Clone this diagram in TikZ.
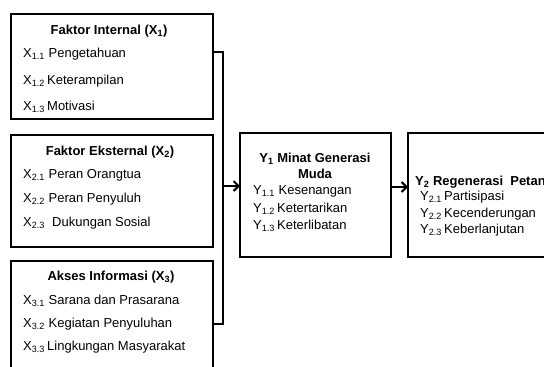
\documentclass[tikz,border=0pt]{standalone}
\usepackage{fontspec}
\setmainfont{Liberation Sans}
\usetikzlibrary{arrows.meta,calc,positioning}

\tikzset{
  box/.style={draw, line width=2.3pt, rectangle, inner sep=0pt, outer sep=0pt},
  head/.style={anchor=base, font=\fontsize{13}{15}\selectfont\bfseries, inner sep=0pt},
  item/.style={anchor=base west, font=\fontsize{13}{15}\selectfont, inner sep=0pt},
  link/.style={line width=2.3pt},
  arr/.style={line width=2.3pt, -{Straight Barb[length=5pt,width=10pt,line width=2pt]}}
}

\begin{document}
\begin{tikzpicture}[x=1pt,y=-1pt]
        \useasboundingbox (0,0) rectangle (544,367);
        \clip (0,0) rectangle (544,367);

        \node[box, minimum width=202pt, minimum height=105pt] (x1) at (112,66.5) {};
        \node[box, minimum width=202pt, minimum height=112pt] (x2) at (112,191) {};
        \node[box, minimum width=202pt, minimum height=130pt] (x3) at (112,326) {};
        \node[box, minimum width=151pt, minimum height=124pt] (y1) at (315.5,195) {};
        \node[box, minimum width=200pt, minimum height=124pt] (y2) at (508,195) {};

        \node[head] (x1h) at (109,34) {Faktor Internal (X\textsubscript{1})};
        \node[item] (x11) at (23,57) {X\textsubscript{1.1} Pengetahuan};
        \node[item] (x12) at (23,84) {X\textsubscript{1.2}\,Keterampilan};
        \node[item] (x13) at (23,110) {X\textsubscript{1.3}\,Motivasi};

        \node[head] (x2h) at (110,155) {Faktor Eksternal (X\textsubscript{2})};
        \node[item] (x21) at (23,178) {X\textsubscript{2.1} Peran Orangtua};
        \node[item] (x22) at (23,202) {X\textsubscript{2.2} Peran Penyuluh};
        \node[item] (x23) at (23,226) {X\textsubscript{2.3}\ \ Dukungan Sosial};

        \node[head] (x3h) at (111,280) {Akses Informasi (X\textsubscript{3})};
        \node[item] (x31) at (23,304) {X\textsubscript{3.1} Sarana dan Prasarana};
        \node[item] (x32) at (23,327) {X\textsubscript{3.2} Kegiatan Penyuluhan};
        \node[item] (x33) at (23,350) {X\textsubscript{3.3}\,Lingkungan Masyarakat};

        \node[head] (y1h) at (315,162) {Y\textsubscript{1} Minat Generasi};
        \node[head] (y1m) at (315,178) {Muda};
        \node[item] (y11) at (253,194) {Y\textsubscript{1.1} Kesenangan};
        \node[item] (y12) at (253,212) {Y\textsubscript{1.2}\,Ketertarikan};
        \node[item] (y13) at (253,229) {Y\textsubscript{1.3}\,Keterlibatan};

        \node[head, anchor=base west] (y2h) at (415,185) {Y\textsubscript{2} Regenerasi\ \ Petani};
        \node[item] (y21) at (420,200) {Y\textsubscript{2.1}\,Partisipasi};
        \node[item] (y22) at (420,217) {Y\textsubscript{2.2}\,Kecenderungan};
        \node[item] (y23) at (420,233) {Y\textsubscript{2.3}\,Keberlanjutan};

        \coordinate (bt) at (223,52);
        \coordinate (bm) at (223,186);
        \coordinate (bb) at (223,324);

        \draw[link] (x1.east |- bt) -- (bt) -- (bb) -- (x3.east |- bb);
        \draw[arr] (bm) -- (y1.west |- bm);
        \draw[arr] ([yshift=8pt]y1.east) -- ([yshift=8pt]y2.west);

        \end{tikzpicture}
\end{document}
